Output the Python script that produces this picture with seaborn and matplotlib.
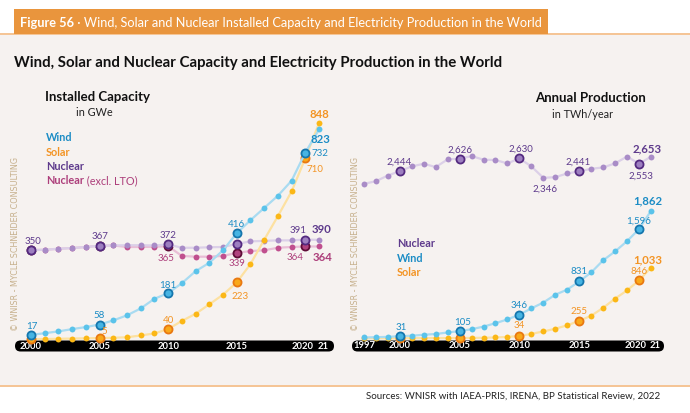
import matplotlib
matplotlib.use("Agg")
import numpy as np
import pandas as pd
import seaborn as sns
from matplotlib import pyplot as plt
from matplotlib.patches import FancyBboxPatch, Rectangle
from matplotlib.transforms import IdentityTransform, ScaledTranslation

# ---- data: installed capacity (GW), 2000-2021
cap_years = list(range(2000, 2022))
cap_wind = [17, 24, 31, 40, 48, 58, 74, 94, 121, 159, 181, 220, 267, 300, 349,
            416, 467, 515, 563, 622, 732, 823]
cap_solar = [1, 1, 2, 3, 4, 5, 6, 8, 15, 23, 40, 72, 100, 137, 175,
             223, 295, 390, 483, 580, 710, 848]
cap_nuclear = [350, 351, 355, 358, 362, 367, 368, 369, 369, 368, 372, 359, 359, 361, 362,
               374, 384, 386, 388, 388, 391, 390]
cap_nuclear_excl = [350, 351, 355, 358, 362, 367, 368, 362, 362, 363, 365, 327, 324, 324, 327,
                    339, 346, 349, 359, 362, 364, 364]
cap_ticks = [2000, 2005, 2010, 2015, 2020, 2021]
cap_ticklabels = ["2000", "2005", "2010", "2015", "2020", "21"]

# ---- data: annual production (TWh), 1997-2021
prod_years = list(range(1997, 2022))
prod_nuclear = [2258, 2297, 2380, 2444, 2513, 2552, 2503, 2616, 2626, 2664, 2611, 2606, 2557,
                2630, 2513, 2346, 2356, 2410, 2441, 2478, 2498, 2557, 2657, 2553, 2653]
prod_wind = [12, 16, 21, 31, 38, 52, 63, 85, 105, 133, 171, 221, 276,
             346, 437, 523, 637, 712, 831, 962, 1140, 1270, 1420, 1596, 1862]
prod_solar = [1, 1, 1, 1, 2, 2, 3, 3, 4, 6, 8, 12, 20,
              34, 65, 100, 140, 190, 255, 330, 445, 580, 700, 846, 1033]
prod_ticks = [1997, 2000, 2005, 2010, 2015, 2020, 2021]
prod_ticklabels = ["1997", "2000", "2005", "2010", "2015", "2020", "21"]

highlight_years = [2000, 2005, 2010, 2015, 2020]

W, H = 690, 414
sns.set_theme(style="white")
plt.rcParams['font.family'] = ['Lato', 'DejaVu Sans']
NARROW = ['Liberation Sans Narrow', 'Lato', 'DejaVu Sans']

fig = plt.figure(figsize=(W / 100, H / 100), dpi=100)
fig.patch.set_facecolor('white')


def fx(x):
    return x / W


def fy(y):
    return 1 - y / H


# background panel, rules and banner
fig.add_artist(Rectangle((0, fy(386)), 1, fy(36) - fy(386), transform=fig.transFigure,
                         fc='#f6f2f0', ec='none', zorder=-3))
fig.add_artist(Rectangle((0, fy(36)), 1, 1.5 / H, transform=fig.transFigure,
                         fc='#f5c596', ec='none', zorder=-2))
fig.add_artist(Rectangle((0, fy(387.5)), 1, 1.5 / H, transform=fig.transFigure,
                         fc='#f5c596', ec='none', zorder=-2))
fig.add_artist(Rectangle((fx(14), fy(35)), (548 - 14) / W, 25.5 / H, transform=fig.transFigure,
                         fc='#e9953d', ec='none', zorder=-2))

# pills under x axis
for x0, x1 in [(15, 334), (352, 664)]:
    fig.add_artist(FancyBboxPatch((x0, H - 352.5), x1 - x0, 11,
                                  boxstyle='round,pad=0,rounding_size=5.5',
                                  transform=IdentityTransform(), fc='black', ec='none',
                                  zorder=-1))

ax1 = fig.add_axes([fx(14.5), fy(340.3), (335.5 - 14.5) / W, (340.3 - 95.5) / H])
ax1.set_xlim(1998.8, 2022.2)
ax1.set_ylim(0, 960)
ax2 = fig.add_axes([fx(349.6), fy(339.3), (665.3 - 349.6) / W, (339.3 - 99.9) / H])
ax2.set_xlim(1995.8, 2022.2)
ax2.set_ylim(0, 3500)

# series styles: line colour, dot colour, highlight face, highlight edge
STY = {
    'wind': ('#a9dbf1', '#5bc3ea', '#46b4e3', '#1576ad'),
    'solar': ('#fde1a1', '#fbb716', '#f9a91a', '#e97811'),
    'nuclear': ('#dcd0e8', '#a98cc7', '#9d7fc0', '#542a80'),
    'excl': ('#e9bed6', '#c04f8e', '#b0427e', '#5f0c37'),
}
LBL = {'wind': '#1b8cc5', 'solar': '#f39424', 'nuclear': '#5e3a8c', 'excl': '#ad3f7b'}


def draw_series(ax, years, vals, key, z):
    lc, dc, hf, he = STY[key]
    sns.lineplot(x=years, y=vals, ax=ax, color=lc, linewidth=1.6, zorder=z, clip_on=False)
    sns.scatterplot(x=years, y=vals, ax=ax, color=dc, s=18, linewidth=0, zorder=z + 0.1,
                    clip_on=False)
    df = pd.DataFrame({'year': years, 'v': vals})
    hl = df[df.year.isin(highlight_years)]
    sns.scatterplot(data=hl, x='year', y='v', ax=ax, color=hf, edgecolor=he, s=34,
                    linewidth=1.3, zorder=z + 0.2, clip_on=False)


draw_series(ax1, cap_years, cap_nuclear_excl, 'excl', 2)
draw_series(ax1, cap_years, cap_nuclear, 'nuclear', 3)
draw_series(ax1, cap_years, cap_solar, 'solar', 4)
draw_series(ax1, cap_years, cap_wind, 'wind', 5)
draw_series(ax2, prod_years, prod_nuclear, 'nuclear', 3)
draw_series(ax2, prod_years, prod_solar, 'solar', 4)
draw_series(ax2, prod_years, prod_wind, 'wind', 5)

for ax, ticks, labels in [(ax1, cap_ticks, cap_ticklabels), (ax2, prod_ticks, prod_ticklabels)]:
    ax.set_facecolor('none')
    for s in ax.spines.values():
        s.set_visible(False)
    ax.set_yticks([])
    ax.set_xticks(ticks, labels)
    ax.tick_params(axis='x', length=0, pad=1.2, labelcolor='white', labelsize=6.8)
    ax.set_xlabel('')
    ax.set_ylabel('')
    for t in ax.get_xticklabels():
        t.set_fontweight('bold')
        shift = {'2020': -3, '21': 4}.get(t.get_text(), 0)
        if shift:
            t.set_transform(t.get_transform() + ScaledTranslation(shift / 100, 0, fig.dpi_scale_trans))


def label(ax, years, vals, key, year, dx, dy, bold=False, ha='center'):
    v = vals[years.index(year)]
    ax.annotate(f"{v:,}", xy=(year, v), xytext=(dx, dy), textcoords='offset pixels',
                ha=ha, va='center', color=LBL[key], fontsize=8.2 if bold else 7,
                fontweight='bold' if bold else 'normal', zorder=10, annotation_clip=False)


# left labels
for yr, dx, dy, b in [(2000, 1, 9, False), (2005, 0, 10, False), (2010, 0, 9, False),
                      (2015, 0, 10, False), (2021, 1, -9, True)]:
    label(ax1, cap_years, cap_wind, 'wind', yr, dx, dy, b)
label(ax1, cap_years, cap_wind, 'wind', 2020, 6, 0, ha='left')
for yr, dx, dy, b in [(2005, 5, 8, False), (2010, 0, 10, False), (2015, 3, -13, False),
                      (2020, 10, -10, False), (2021, 0, 10, True)]:
    label(ax1, cap_years, cap_solar, 'solar', yr, dx, dy, b)
for yr, dx, dy, b in [(2000, 2, 10, False), (2005, 0, 10, False), (2010, 0, 10, False),
                      (2020, -7, 10, False), (2021, 2, 11, True)]:
    label(ax1, cap_years, cap_nuclear, 'nuclear', yr, dx, dy, b)
for yr, dx, dy, b in [(2010, -2, -11, False), (2015, 0, -10, False), (2020, -10, -10, False),
                      (2021, 3, -10, True)]:
    label(ax1, cap_years, cap_nuclear_excl, 'excl', yr, dx, dy, b)

# right labels
for yr, dx, dy, b in [(2000, -1, 10, False), (2005, 0, 9, False), (2010, 1, 10, False),
                      (2012, 2, -10, False), (2015, -1, 10, False), (2020, 2, -12, False),
                      (2021, -4, 9, True)]:
    label(ax2, prod_years, prod_nuclear, 'nuclear', yr, dx, dy, b)
for yr, dx, dy, b in [(2000, 1, 10, False), (2005, 3, 10, False), (2010, 0, 10, False),
                      (2015, 0, 11, False), (2020, 0, 9, False), (2021, -3, 11, True)]:
    label(ax2, prod_years, prod_wind, 'wind', yr, dx, dy, b)
for yr, dx, dy, b in [(2010, 0, 11, False), (2015, 0, 10, False), (2020, 0, 10, False),
                      (2021, -3, 9, True)]:
    label(ax2, prod_years, prod_solar, 'solar', yr, dx, dy, b)

# texts
renderer = fig.canvas.get_renderer()


def two_part(x, y, a, b, size, color, fam=None, bold_color=None):
    kw = dict(fontsize=size, va='center', ha='left')
    if fam:
        kw['family'] = fam
    t = fig.text(fx(x), fy(y), a, color=bold_color or color, fontweight='bold', **kw)
    bb = t.get_window_extent(renderer)
    fig.text(bb.x1 / W, fy(y), b, color=color, **kw)


two_part(20, 23, "Figure 56", " · Wind, Solar and Nuclear Installed Capacity and Electricity "
         "Production in the World", 9.2, 'white')

fig.text(fx(14), fy(63), "Wind, Solar and Nuclear Capacity and Electricity Production in the World",
         fontsize=10.8, fontweight='bold', family=NARROW, color='#111111', va='center')

fig.text(fx(45), fy(97), "Installed Capacity", fontsize=9.5, fontweight='bold', family=NARROW,
         color='#111111', va='center')
fig.text(fx(76), fy(113), "in GWe", fontsize=7.8, color='#222222', va='center')
fig.text(fx(535), fy(98), "Annual Production", fontsize=9.5, fontweight='bold', family=NARROW,
         color='#111111', va='center')
fig.text(fx(552), fy(114), "in TWh/year", fontsize=7.8, color='#222222', va='center')

for y, txt, key in [(138, "Wind", 'wind'), (152, "Solar", 'solar'), (167, "Nuclear", 'nuclear')]:
    fig.text(fx(46), fy(y), txt, fontsize=7.8, fontweight='bold', color=LBL[key], va='center')
two_part(46, 181, "Nuclear", " (excl. LTO)", 7.8, LBL['excl'])

for y, txt, key in [(244, "Nuclear", 'nuclear'), (259, "Wind", 'wind'), (273, "Solar", 'solar')]:
    fig.text(fx(397), fy(y), txt, fontsize=7.8, fontweight='bold', color=LBL[key], va='center')

for x in (16, 356):
    fig.text(fx(x), fy(331), "© WNISR - MYCLE SCHNEIDER CONSULTING", rotation=90, ha='center',
             va='bottom', fontsize=5.8, family=['DejaVu Sans'], color='#c6b08c')

fig.text(fx(660), fy(396), "Sources: WNISR with IAEA-PRIS, IRENA, BP Statistical Review, 2022",
         ha='right', va='center', fontsize=7, color='#222222')

fig.savefig('out.png', dpi=100, facecolor='white')
